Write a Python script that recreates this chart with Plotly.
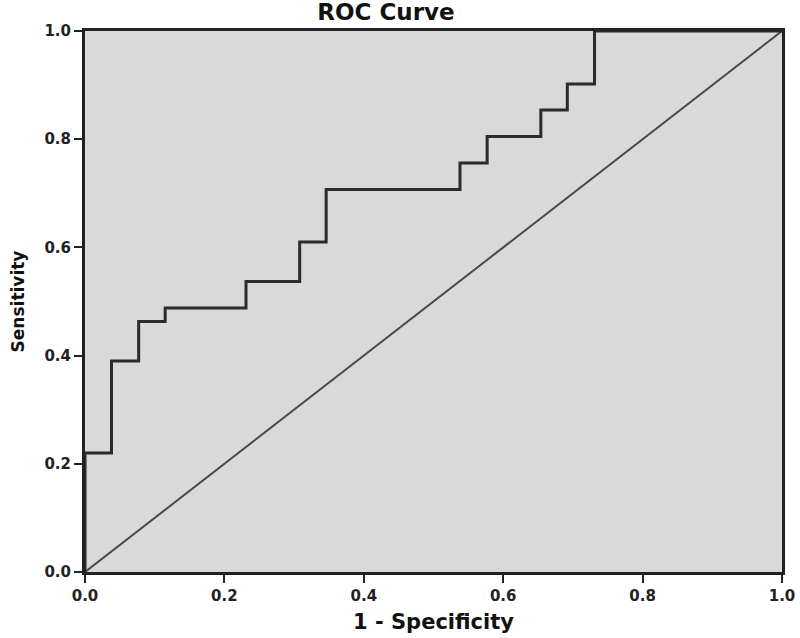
import plotly.graph_objects as go

# ROC curve step corners (1 - specificity, sensitivity)
fpr = [0.0, 0.0, 0.038, 0.077, 0.115, 0.231, 0.308, 0.346, 0.538, 0.577, 0.654, 0.692, 0.731, 1.0]
tpr = [0.0, 0.220, 0.390, 0.463, 0.488, 0.537, 0.610, 0.707, 0.756, 0.805, 0.854, 0.902, 1.0, 1.0]

# reference line
ref_x = [0.0, 1.0]
ref_y = [0.0, 1.0]

tick_vals = [0.0, 0.2, 0.4, 0.6, 0.8, 1.0]
tick_text = ["0.0", "0.2", "0.4", "0.6", "0.8", "1.0"]

font_family = "DejaVu Sans"

fig = go.Figure()
fig.add_trace(go.Scatter(x=ref_x, y=ref_y, mode="lines",
                         line=dict(color="#4a4a4a", width=2),
                         showlegend=False, hoverinfo="skip"))
fig.add_trace(go.Scatter(x=fpr, y=tpr, mode="lines", line_shape="hv",
                         line=dict(color="#2b2b2b", width=3),
                         cliponaxis=False, showlegend=False))

axis_common = dict(
    range=[0, 1], tickvals=tick_vals, ticktext=tick_text,
    showgrid=False, zeroline=False, automargin=False,
    showline=True, linecolor="#222222", linewidth=3, mirror=True,
    ticks="outside", ticklen=8, tickwidth=2, tickcolor="#222222",
    tickfont=dict(family=font_family, size=15, color="#222222", weight="bold"),
)

fig.update_layout(
    width=800, height=638,
    margin=dict(l=85, r=18, t=31, b=66),
    paper_bgcolor="white", plot_bgcolor="#d9d9d9",
    title=dict(text="<b>ROC Curve</b>", x=0.4825, xanchor="center",
               y=0.982, yanchor="middle", pad=dict(t=0, b=0),
               font=dict(family=font_family, size=23, color="#111111")),
    xaxis=dict(**axis_common,
               title=dict(text="<b>1 - Specificity</b>", standoff=11,
                          font=dict(family=font_family, size=21, color="#111111"))),
    yaxis=dict(**axis_common,
               title=dict(text="<b>Sensitivity</b>", standoff=16,
                          font=dict(family=font_family, size=17, color="#111111"))),
)

fig.write_html("out.html", config={"displayModeBar": False},
               post_script="document.body.style.margin='0';")
